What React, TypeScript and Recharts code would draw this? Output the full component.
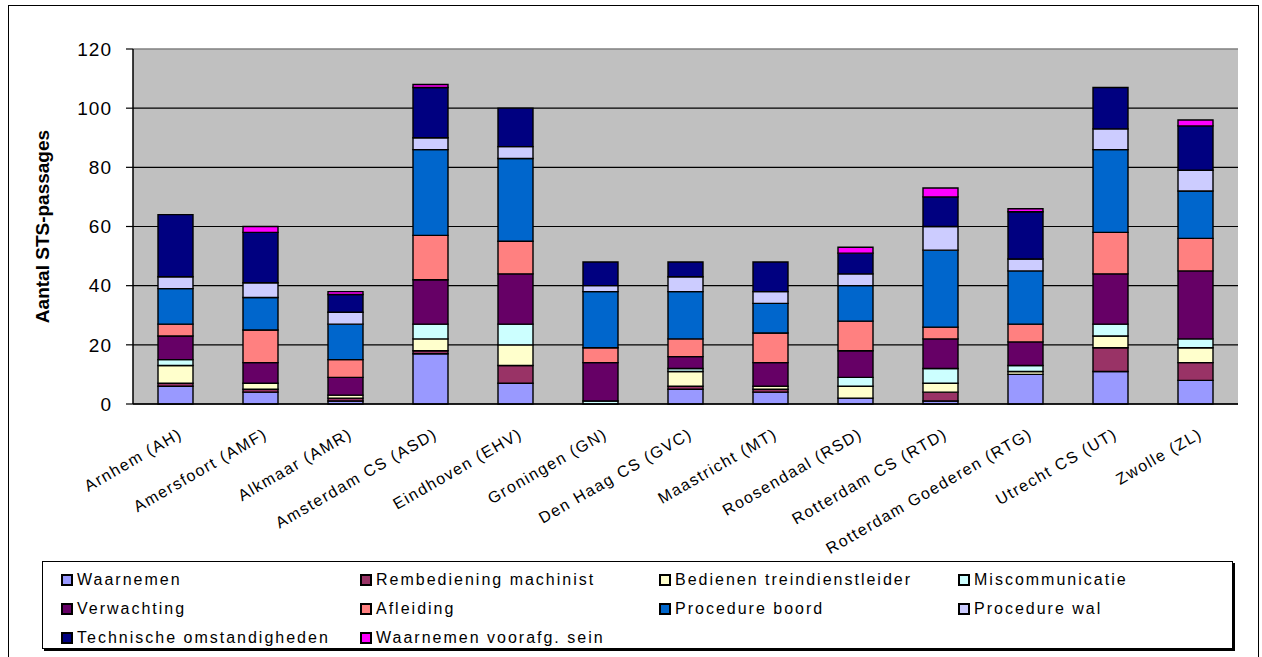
import React from "react";
import {
  BarChart,
  Bar,
  XAxis,
  YAxis,
  CartesianGrid,
  Legend,
  ReferenceLine,
} from "recharts";

const stations = [
  "Arnhem (AH)",
  "Amersfoort (AMF)",
  "Alkmaar (AMR)",
  "Amsterdam CS (ASD)",
  "Eindhoven (EHV)",
  "Groningen (GN)",
  "Den Haag CS (GVC)",
  "Maastricht (MT)",
  "Roosendaal (RSD)",
  "Rotterdam CS (RTD)",
  "Rotterdam Goederen (RTG)",
  "Utrecht CS (UT)",
  "Zwolle (ZL)",
];

const waarnemen = [6, 4, 1, 17, 7, 0, 5, 4, 2, 1, 10, 11, 8];
const rembediening = [1, 1, 1, 1, 6, 0, 1, 1, 0, 3, 0, 8, 6];
const bedienen = [6, 2, 1, 4, 7, 0, 5, 1, 4, 3, 1, 4, 5];
const miscommunicatie = [2, 0, 0, 5, 7, 1, 1, 0, 3, 5, 2, 4, 3];
const verwachting = [8, 7, 6, 15, 17, 13, 4, 8, 9, 10, 8, 17, 23];
const afleiding = [4, 11, 6, 15, 11, 5, 6, 10, 10, 4, 6, 14, 11];
const procedureBoord = [12, 11, 12, 29, 28, 19, 16, 10, 12, 26, 18, 28, 16];
const procedureWal = [4, 5, 4, 4, 4, 2, 5, 4, 4, 8, 4, 7, 7];
const technisch = [21, 17, 6, 17, 13, 8, 5, 10, 7, 10, 16, 14, 15];
const waarnemenVoorafg = [0, 2, 1, 1, 0, 0, 0, 0, 2, 3, 1, 0, 2];

const yTicks = [0, 20, 40, 60, 80, 100, 120];

const series = [
  { key: "w", name: "Waarnemen", values: waarnemen, color: "#9999FF" },
  { key: "rm", name: "Rembediening machinist", values: rembediening, color: "#993366" },
  { key: "bt", name: "Bedienen treindienstleider", values: bedienen, color: "#FFFFCC" },
  { key: "mc", name: "Miscommunicatie", values: miscommunicatie, color: "#CCFFFF" },
  { key: "vw", name: "Verwachting", values: verwachting, color: "#660066" },
  { key: "af", name: "Afleiding", values: afleiding, color: "#FF8080" },
  { key: "pb", name: "Procedure boord", values: procedureBoord, color: "#0066CC" },
  { key: "pw", name: "Procedure wal", values: procedureWal, color: "#CCCCFF" },
  { key: "to", name: "Technische omstandigheden", values: technisch, color: "#000080" },
  { key: "wv", name: "Waarnemen voorafg. sein", values: waarnemenVoorafg, color: "#FF00FF" },
];

const data = stations.map((name, i) => {
  const row: Record<string, string | number> = { name };
  series.forEach((s) => {
    row[s.key] = s.values[i];
  });
  return row;
});

const FONT = "'Liberation Sans', Arial, sans-serif";

// rotated station names, end of the text sits at the category centre
const XTick = ({ x, y, payload }: any) => (
  <g transform={`translate(${x + 8},${y + 33})`}>
    <text
      x={0}
      y={0}
      textAnchor="end"
      transform="rotate(-30)"
      fontSize={16}
      fontFamily={FONT}
      fill="#000"
      style={{ letterSpacing: 1.5 }}
    >
      {payload.value}
    </text>
  </g>
);

// legend keeps series order (recharts sorts payload by name)
const LegendBox = () => (
  <div
    style={{
      boxSizing: "border-box",
      height: 88,
      border: "1px solid #000",
      boxShadow: "2px 2px 0 #000",
      background: "#fff",
      padding: "3px 0 0 18px",
      display: "grid",
      gridTemplateColumns: "299px 299px 299px 299px",
      gridAutoRows: "29px",
      fontFamily: FONT,
      fontSize: 16,
      letterSpacing: 2,
      color: "#000",
    }}
  >
    {series.map((s) => (
      <div key={s.key} style={{ display: "flex", alignItems: "center", whiteSpace: "nowrap" }}>
        <span
          style={{
            display: "inline-block",
            boxSizing: "border-box",
            width: 12,
            height: 12,
            background: s.color,
            border: "2px solid #000",
            marginRight: 4,
          }}
        />
        {s.name}
      </div>
    ))}
  </div>
);

export default function App() {
  return (
    <div
      style={{
        position: "absolute",
        left: 8,
        top: 5,
        width: 1249,
        height: 660,
        border: "1px solid #000",
        background: "#fff",
        fontFamily: FONT,
      }}
    >
      <BarChart
        width={1249}
        height={655}
        data={data}
        margin={{ top: 43, right: 20, left: 0, bottom: 12 }}
        barSize={35}
      >
        <CartesianGrid
          xAxisId="cat"
          vertical={false}
          horizontalValues={[0, 20, 40, 60, 80, 100]}
          stroke="#000"
          strokeWidth={1.2}
          fill="#C0C0C0"
          fillOpacity={1}
        />
        <XAxis
          xAxisId="b"
          type="number"
          domain={[0, 13]}
          ticks={[0, 1, 2, 3, 4, 5, 6, 7, 8, 9, 10, 11, 12, 13]}
          allowDataOverflow
          tick={false}
          tickSize={6}
          tickLine={{ stroke: "#000", strokeWidth: 1.2 }}
          axisLine={false}
          height={0}
        />
        <XAxis
          xAxisId="cat"
          dataKey="name"
          type="category"
          interval={0}
          tick={<XTick />}
          tickLine={false}
          tickSize={0}
          tickMargin={0}
          axisLine={{ stroke: "#000", strokeWidth: 1.5 }}
          height={157}
        />
        <YAxis
          domain={[0, 120]}
          ticks={yTicks}
          width={124}
          tickSize={7}
          tickMargin={14}
          axisLine={{ stroke: "#000", strokeWidth: 1.5 }}
          tickLine={{ stroke: "#000", strokeWidth: 1.2 }}
          tick={{ fontSize: 19, fill: "#000", fontFamily: FONT, style: { letterSpacing: 1 } }}
          label={{
            value: "Aantal STS-passages",
            angle: -90,
            position: "insideLeft",
            offset: 33,
            style: {
              textAnchor: "middle",
              fontSize: 19,
              fontWeight: "bold",
              fill: "#000",
              fontFamily: FONT,
            },
          }}
        />
        <ReferenceLine xAxisId="b" y={120} stroke="#808080" strokeWidth={1.5} />
        <ReferenceLine xAxisId="b" x={13} stroke="#808080" strokeWidth={1.5} />
        {series.map((s) => (
          <Bar
            key={s.key}
            xAxisId="cat"
            dataKey={s.key}
            name={s.name}
            stackId="a"
            fill={s.color}
            stroke="#000"
            strokeWidth={1.4}
            isAnimationActive={false}
          />
        ))}
        <Legend
          verticalAlign="bottom"
          align="left"
          content={<LegendBox />}
          wrapperStyle={{ left: 33, width: 1191, bottom: 12 }}
        />
      </BarChart>
    </div>
  );
}
